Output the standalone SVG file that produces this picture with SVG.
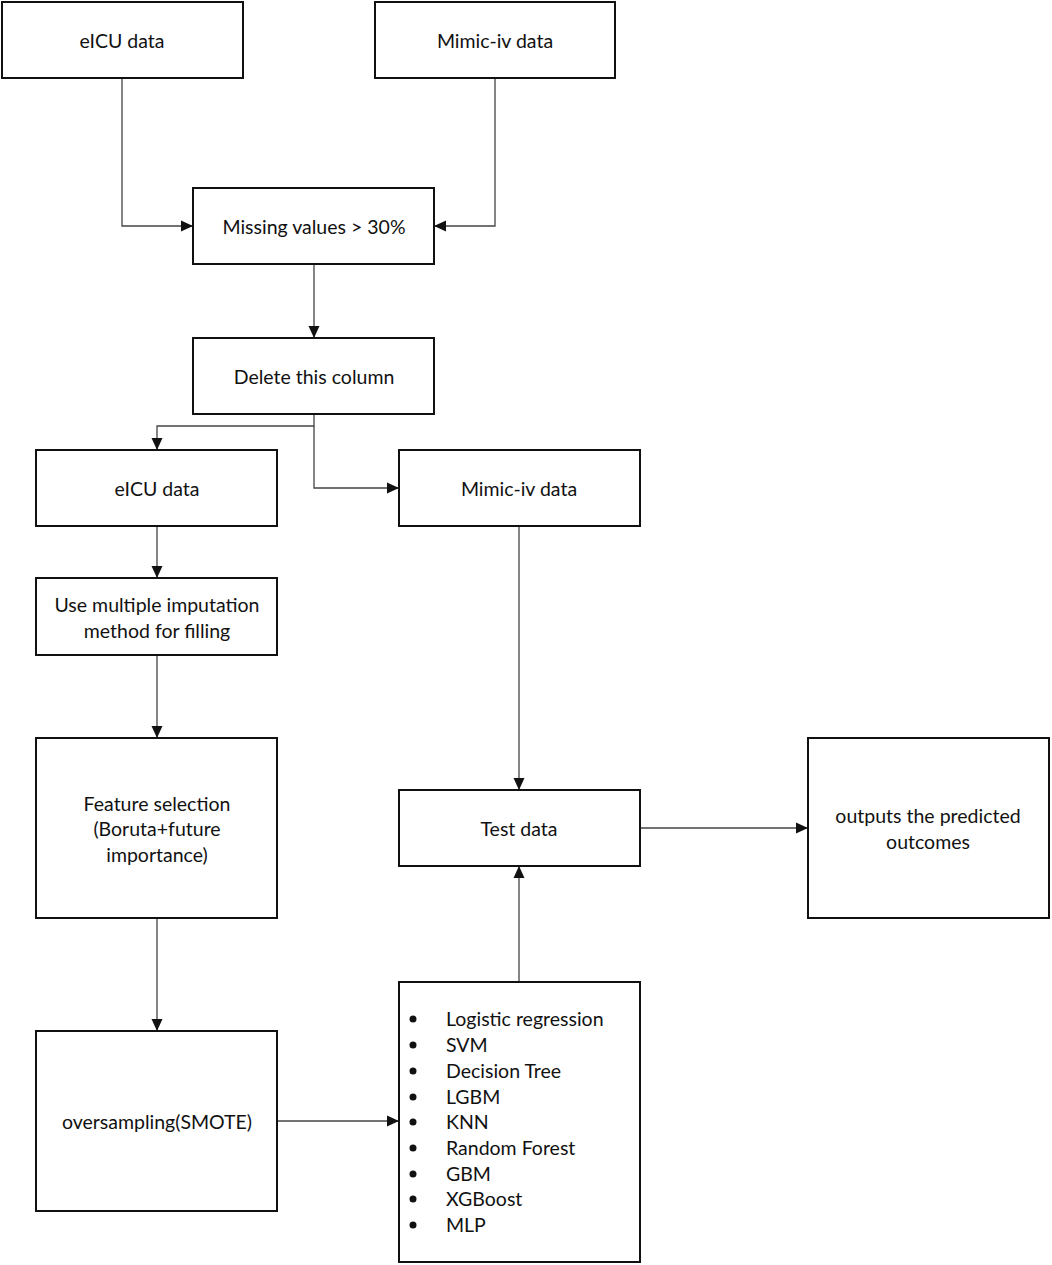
<svg xmlns="http://www.w3.org/2000/svg" width="1052" height="1265" viewBox="0 0 1052 1265">
<style>
.box{fill:#fff;stroke:#111;stroke-width:2}
.t{font-family:Lato,"Liberation Sans",sans-serif;font-size:19.5px;fill:#111;text-anchor:middle;dominant-baseline:central}
.l{font-family:Lato,"Liberation Sans",sans-serif;font-size:19.5px;fill:#111;dominant-baseline:central}
.c{fill:none;stroke:#444;stroke-width:1.3}
</style>
<defs>
<marker id="a" viewBox="0 0 12 12" refX="12" refY="6" markerWidth="12" markerHeight="12" markerUnits="userSpaceOnUse" orient="auto">
<path d="M0,0.5 L12,6 L0,11.5 z" fill="#111"/>
</marker>
</defs>
<rect width="1052" height="1265" fill="#fff"/>
<g id="connectors">
<path class="c" marker-end="url(#a)" d="M122,78 V226 H193"/>
<path class="c" marker-end="url(#a)" d="M495,78 V226 H434"/>
<path class="c" marker-end="url(#a)" d="M314,264 V338"/>
<path class="c" marker-end="url(#a)" d="M314,414 V426 H157 V450"/>
<path class="c" marker-end="url(#a)" d="M314,426 V488 H399"/>
<path class="c" marker-end="url(#a)" d="M157,526 V578"/>
<path class="c" marker-end="url(#a)" d="M157,655 V738"/>
<path class="c" marker-end="url(#a)" d="M157,918 V1031"/>
<path class="c" marker-end="url(#a)" d="M277,1121 H399"/>
<path class="c" marker-end="url(#a)" d="M519,526 V790"/>
<path class="c" marker-end="url(#a)" d="M519,982 V866"/>
<path class="c" marker-end="url(#a)" d="M640,828 H808"/>
</g>
<g id="n1"><rect class="box" x="2" y="2" width="241" height="76"/><text class="t" x="122" y="40">eICU data</text></g>
<g id="n2"><rect class="box" x="375" y="2" width="240" height="76"/><text class="t" x="495" y="40">Mimic-iv data</text></g>
<g id="n3"><rect class="box" x="193" y="188" width="241" height="76"/><text class="t" x="314" y="226">Missing values &gt; 30%</text></g>
<g id="n4"><rect class="box" x="193" y="338" width="241" height="76"/><text class="t" x="314" y="376">Delete this column</text></g>
<g id="n5"><rect class="box" x="36" y="450" width="241" height="76"/><text class="t" x="157" y="488">eICU data</text></g>
<g id="n6"><rect class="box" x="399" y="450" width="241" height="76"/><text class="t" x="519" y="488">Mimic-iv data</text></g>
<g id="n7"><rect class="box" x="36" y="578" width="241" height="77"/><text class="t" x="157" y="604">Use multiple imputation</text><text class="t" x="157" y="630">method for filling</text></g>
<g id="n8"><rect class="box" x="36" y="738" width="241" height="180"/><text class="t" x="157" y="803">Feature selection</text><text class="t" x="157" y="828">(Boruta+future</text><text class="t" x="157" y="854">importance)</text></g>
<g id="n9"><rect class="box" x="36" y="1031" width="241" height="180"/><text class="t" x="157" y="1121">oversampling(SMOTE)</text></g>
<g id="n10"><rect class="box" x="399" y="790" width="241" height="76"/><text class="t" x="519" y="828">Test data</text></g>
<g id="n11"><rect class="box" x="808" y="738" width="241" height="180"/><text class="t" x="928" y="815">outputs the predicted</text><text class="t" x="928" y="841">outcomes</text></g>
<g id="n12"><rect class="box" x="399" y="982" width="241" height="280"/>
<g fill="#111">
<circle cx="413" cy="1019" r="3.5"/><circle cx="413" cy="1045" r="3.5"/><circle cx="413" cy="1071" r="3.5"/><circle cx="413" cy="1097" r="3.5"/><circle cx="413" cy="1122" r="3.5"/><circle cx="413" cy="1148" r="3.5"/><circle cx="413" cy="1174" r="3.5"/><circle cx="413" cy="1199" r="3.5"/><circle cx="413" cy="1225" r="3.5"/>
</g>
<text class="l" x="446" y="1018">Logistic regression</text>
<text class="l" x="446" y="1044">SVM</text>
<text class="l" x="446" y="1070">Decision Tree</text>
<text class="l" x="446" y="1096">LGBM</text>
<text class="l" x="446" y="1121">KNN</text>
<text class="l" x="446" y="1147">Random Forest</text>
<text class="l" x="446" y="1173">GBM</text>
<text class="l" x="446" y="1198">XGBoost</text>
<text class="l" x="446" y="1224">MLP</text>
</g>
</svg>
